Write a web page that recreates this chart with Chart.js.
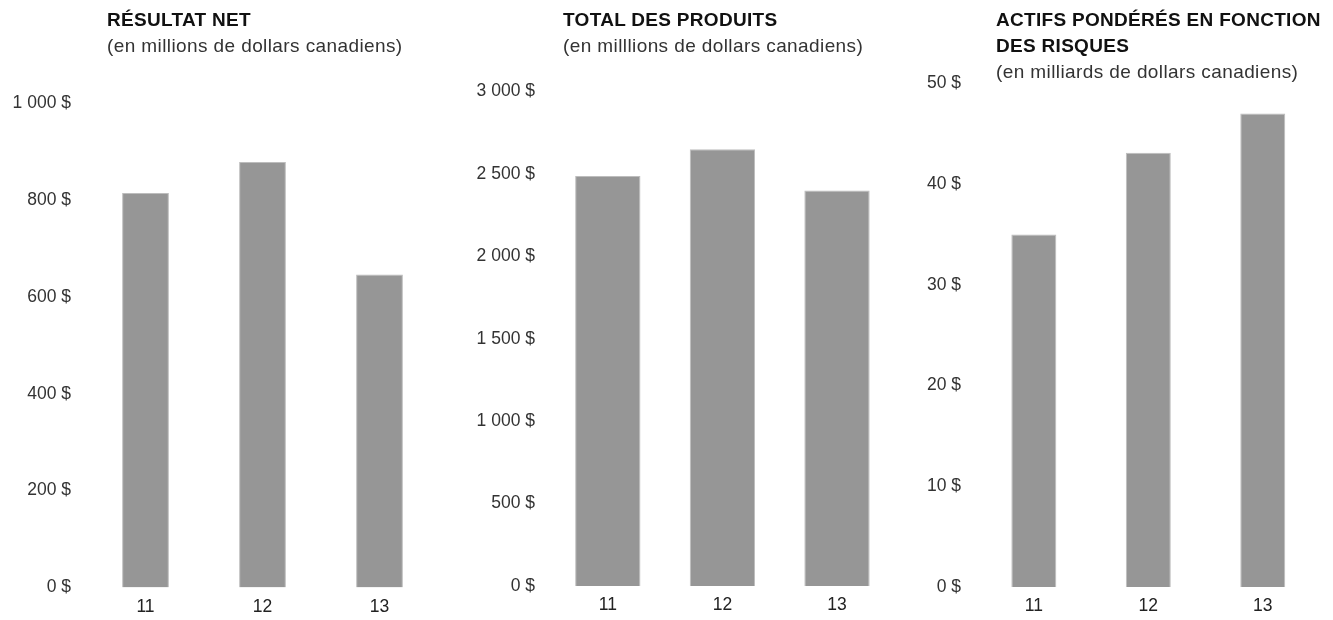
<!DOCTYPE html>
<html lang="fr">
<head>
<meta charset="utf-8">
<script src="https://cdn.jsdelivr.net/npm/chart.js@4.4.1/dist/chart.umd.min.js"></script>
<style>
  html, body { margin: 0; padding: 0; background: #fff; }
  body { width: 1333px; height: 620px; position: relative; overflow: hidden; font-family: "Liberation Sans", Arial, sans-serif; }
  .box { position: absolute; top: 0; height: 620px; }
  .ttl { position: absolute; font-weight: bold; font-size: 19px; color: #111; line-height: 26px; white-space: nowrap; letter-spacing: 0.3px; }
  .sub { position: absolute; font-size: 19px; color: #333; line-height: 26px; white-space: nowrap; letter-spacing: 0.4px; }
</style>
</head>
<body>
<div class="box" style="left:0;width:445px"><canvas id="c1"></canvas></div>
<div class="box" style="left:450px;width:450px"><canvas id="c2"></canvas></div>
<div class="box" style="left:900px;width:433px"><canvas id="c3"></canvas></div>

<div class="ttl" style="left:107px;top:7px">RÉSULTAT NET</div>
<div class="sub" style="left:107px;top:33px">(en millions de dollars canadiens)</div>

<div class="ttl" style="left:563px;top:7px">TOTAL DES PRODUITS</div>
<div class="sub" style="left:563px;top:33px">(en milllions de dollars canadiens)</div>

<div class="ttl" style="left:996px;top:7px">ACTIFS PONDÉRÉS EN FONCTION<br>DES RISQUES</div>
<div class="sub" style="left:996px;top:59px">(en milliards de dollars canadiens)</div>

<script>
// années (exercices)
const years = ['11', '12', '13'];

// résultat net, M$
const netIncome = [814, 878, 646];
const netTicks = [0, 200, 400, 600, 800, 1000];

// total des produits, M$
const totalRevenue = [2488, 2650, 2399];
const revTicks = [0, 500, 1000, 1500, 2000, 2500, 3000];

// actifs pondérés en fonction des risques, G$
const rwa = [35.0, 43.1, 47.0];
const rwaTicks = [0, 10, 20, 30, 40, 50];

const BAR = '#969696';
const TXT = '#333333';

function fmt(v) {
  return String(v).replace(/\B(?=(\d{3})+(?!\d))/g, ' ') + ' $';
}

function makeChart(id, values, ticks, opt) {
  const el = document.getElementById(id);
  el.parentNode.style.height = '620px';
  return new Chart(el, {
    type: 'bar',
    data: {
      labels: years,
      datasets: [{
        data: values,
        backgroundColor: BAR,
        borderColor: '#bdbdbd',
        borderWidth: 1,
        barPercentage: opt.bar,
        categoryPercentage: 1
      }]
    },
    options: {
      responsive: true, maintainAspectRatio: false,
      animation: false,
      layout: { padding: { top: opt.top, right: opt.right, left: 0, bottom: 0 } },
      plugins: { legend: { display: false }, tooltip: { enabled: false } },
      scales: {
        x: {
          grid: { display: false, drawTicks: false },
          border: { display: false },
          ticks: { color: '#222', font: { size: 17.5, family: 'Liberation Sans' }, padding: 9 },
          afterFit: s => { s.height = opt.xh; }
        },
        y: {
          min: ticks[0], max: ticks[ticks.length - 1],
          grid: { display: false, drawTicks: false },
          border: { display: false },
          afterBuildTicks: s => { s.ticks = ticks.map(v => ({ value: v })); },
          ticks: {
            color: TXT, font: { size: 17.5, family: 'Liberation Sans' }, padding: opt.pad,
            callback: v => fmt(v)
          },
          afterFit: s => { s.width = opt.yw; }
        }
      }
    }
  });
}

makeChart('c1', netIncome, netTicks, { bar: 0.4, top: 103, right: 7, xh: 32.5, yw: 87, pad: 16 });
makeChart('c2', totalRevenue, revTicks, { bar: 0.57, top: 91.5, right: 5.7, xh: 34, yw: 100.5, pad: 15.5 });
makeChart('c3', rwa, rwaTicks, { bar: 0.393, top: 83.3, right: 13, xh: 33, yw: 76.6, pad: 15.6 });
</script>
</body>
</html>
